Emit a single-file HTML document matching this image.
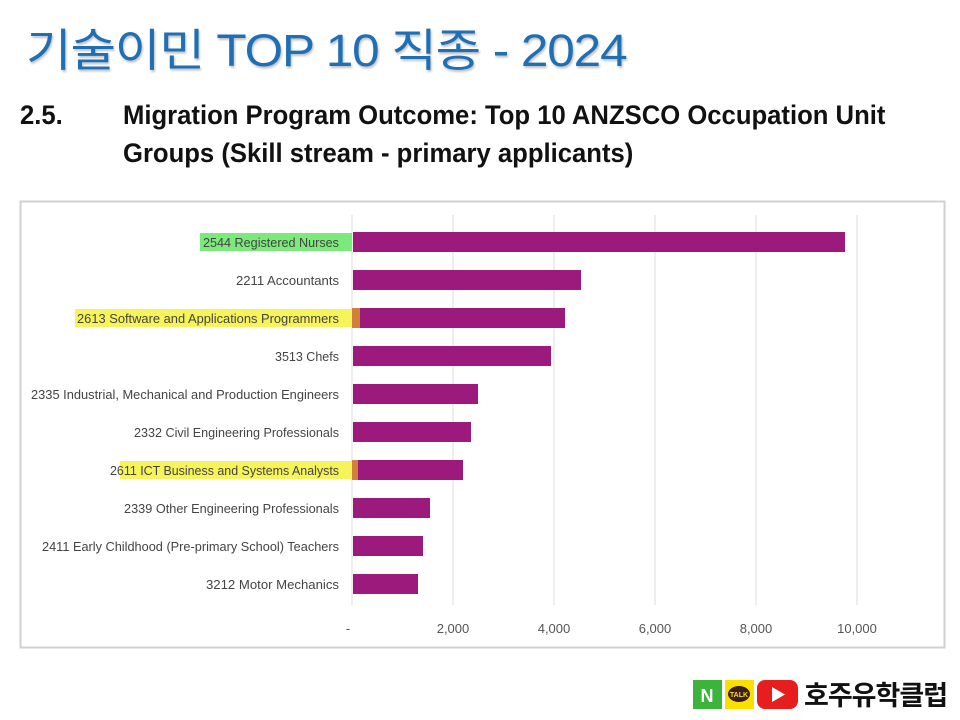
<!DOCTYPE html>
<html><head><meta charset="utf-8"><style>
body{margin:0;width:960px;height:720px;background:#fff;overflow:hidden;position:relative;font-family:"Liberation Sans","Noto Sans CJK KR",sans-serif}
.t{position:absolute;left:26px;top:14px;font-size:45px;color:#1f6fb5;letter-spacing:-1px;transform:scaleX(1.1);transform-origin:left;white-space:nowrap;text-shadow:1px 2px 2px rgba(0,0,0,0.25)}
.s{position:absolute;font-weight:bold;font-size:27px;color:#111;transform:scaleX(0.95);transform-origin:left;white-space:nowrap}
</style></head><body>
<div class="t">기술이민 TOP 10 직종 - 2024</div>
<div class="s" style="left:20px;top:100px">2.5.</div>
<div class="s" style="left:123px;top:100px">Migration Program Outcome: Top 10 ANZSCO Occupation Unit</div>
<div class="s" style="left:123px;top:138px">Groups (Skill stream - primary applicants)</div>
<svg width="960" height="720" style="position:absolute;left:0;top:0">
<rect x="20.5" y="201.5" width="924" height="446" fill="none" stroke="#d0d0d0" stroke-width="2"/>
<g stroke="#dedede" stroke-width="1">
<line x1="352" y1="215" x2="352" y2="605"/><line x1="453" y1="215" x2="453" y2="605"/><line x1="554" y1="215" x2="554" y2="605"/><line x1="655" y1="215" x2="655" y2="605"/><line x1="756" y1="215" x2="756" y2="605"/><line x1="857" y1="215" x2="857" y2="605"/>
</g>
<rect x="200" y="233" width="152" height="18" fill="#7bea7b"/>
<rect x="75" y="309" width="285" height="18" fill="#f7f35a"/>
<rect x="120" y="461" width="238" height="18" fill="#f7f35a"/>
<g fill="#9c1a7c">
<rect x="353" y="232" width="492" height="20"/>
<rect x="353" y="270" width="228" height="20"/>
<rect x="360" y="308" width="205" height="20"/>
<rect x="353" y="346" width="198" height="20"/>
<rect x="353" y="384" width="125" height="20"/>
<rect x="353" y="422" width="118" height="20"/>
<rect x="358" y="460" width="105" height="20"/>
<rect x="353" y="498" width="77" height="20"/>
<rect x="353" y="536" width="70" height="20"/>
<rect x="353" y="574" width="65" height="20"/>
</g>
<rect x="352" y="308" width="8" height="20" fill="#d0803a"/>
<rect x="352" y="460" width="6" height="20" fill="#d0803a"/>
<g font-family="Liberation Sans, sans-serif" font-size="13" fill="#444" text-anchor="end">
<text x="339" y="247" textLength="136" lengthAdjust="spacingAndGlyphs">2544 Registered Nurses</text>
<text x="339" y="285" textLength="103" lengthAdjust="spacingAndGlyphs">2211 Accountants</text>
<text x="339" y="323" textLength="262" lengthAdjust="spacingAndGlyphs">2613 Software and Applications Programmers</text>
<text x="339" y="361" textLength="64" lengthAdjust="spacingAndGlyphs">3513 Chefs</text>
<text x="339" y="399" textLength="308" lengthAdjust="spacingAndGlyphs">2335 Industrial, Mechanical and Production Engineers</text>
<text x="339" y="437" textLength="205" lengthAdjust="spacingAndGlyphs">2332 Civil Engineering Professionals</text>
<text x="339" y="475" textLength="229" lengthAdjust="spacingAndGlyphs">2611 ICT Business and Systems Analysts</text>
<text x="339" y="513" textLength="215" lengthAdjust="spacingAndGlyphs">2339 Other Engineering Professionals</text>
<text x="339" y="551" textLength="297" lengthAdjust="spacingAndGlyphs">2411 Early Childhood (Pre-primary School) Teachers</text>
<text x="339" y="589" textLength="133" lengthAdjust="spacingAndGlyphs">3212 Motor Mechanics</text>
</g>
<g font-family="Liberation Sans, sans-serif" font-size="13" fill="#555" text-anchor="middle">
<text x="348" y="633">-</text><text x="453" y="633">2,000</text><text x="554" y="633">4,000</text><text x="655" y="633">6,000</text><text x="756" y="633">8,000</text><text x="857" y="633">10,000</text>
</g>
<rect x="693" y="680" width="29" height="29" fill="#3cb43c"/>
<text x="707" y="702" font-family="Liberation Sans" font-weight="bold" font-size="18" fill="#fff" text-anchor="middle">N</text>
<rect x="725" y="680" width="29" height="29" fill="#f9e000"/>
<ellipse cx="739" cy="694" rx="11" ry="8" fill="#3b1e1e"/>
<text x="739" y="697" font-family="Liberation Sans" font-weight="bold" font-size="7" fill="#f9e000" text-anchor="middle">TALK</text>
<rect x="757" y="680" width="41" height="29" rx="8" fill="#e61e1e"/>
<polygon points="772,687 772,702 785,694.5" fill="#fff"/>
</svg>
<div style="position:absolute;left:804px;top:677px;font-size:27px;font-weight:bold;color:#111;font-family:'Noto Sans CJK KR',sans-serif;letter-spacing:-1px;line-height:34px">호주유학클럽</div>
</body></html>
